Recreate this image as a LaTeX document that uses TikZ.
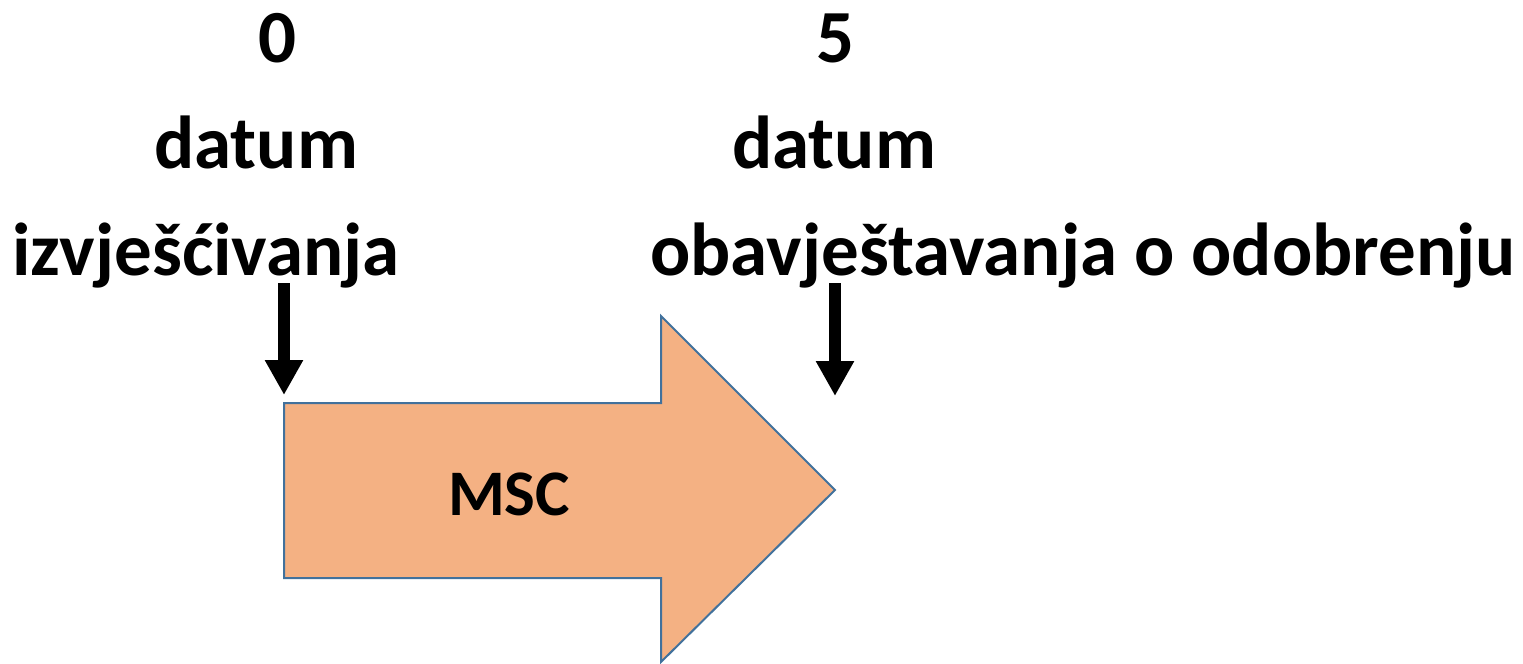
\documentclass[tikz,border=0pt]{standalone}
\usepackage{fontspec}
\setmainfont{Carlito}
\usetikzlibrary{arrows.meta}
\definecolor{msfill}{HTML}{F4B183}
\definecolor{msline}{HTML}{41719C}
\tikzset{
  lbl/.style={inner sep=0pt, anchor=base, font=\fontsize{37.5pt}{45pt}\selectfont\bfseries},
  msclbl/.style={inner sep=0pt, anchor=base, font=\fontsize{32.5pt}{39pt}\selectfont\bfseries},
  pointer/.style={line width=6pt, -{Triangle[width=18pt,length=17.5pt]}},
  bigarrow/.style={fill=msfill, draw=msline, line width=1pt, line join=miter}
}
\begin{document}
\begin{tikzpicture}[x=0.5pt,y=-0.5pt]
\useasboundingbox (0,0) rectangle (1523,664);
% big arrow
\draw[bigarrow] (284,403) -- (661,403) -- (661,316) -- (835,490) -- (661,664-2) -- (661,578) -- (284,578) -- cycle;
\node[msclbl] (msc) at (509,515) {MSC};
% labels left
\node[lbl] (n0) at (278,62) {0};
\node[lbl] (d0) at (256,168) {datum};
\node[lbl] (i0) at (206,275) {izvješćivanja};
% labels right
\node[lbl] (n5) at (836,62) {5};
\node[lbl] (d5) at (834,168) {datum};
\node[lbl] (o5) at (1083,275) {obavještavanja o odobrenju};
% pointers
\coordinate (s0) at (284,283);
\coordinate (e0) at (284,395);
\coordinate (s5) at (835,283);
\coordinate (e5) at (835,396);
\draw[pointer] (s0) -- (e0);
\draw[pointer] (s5) -- (e5);
\end{tikzpicture}
\end{document}
